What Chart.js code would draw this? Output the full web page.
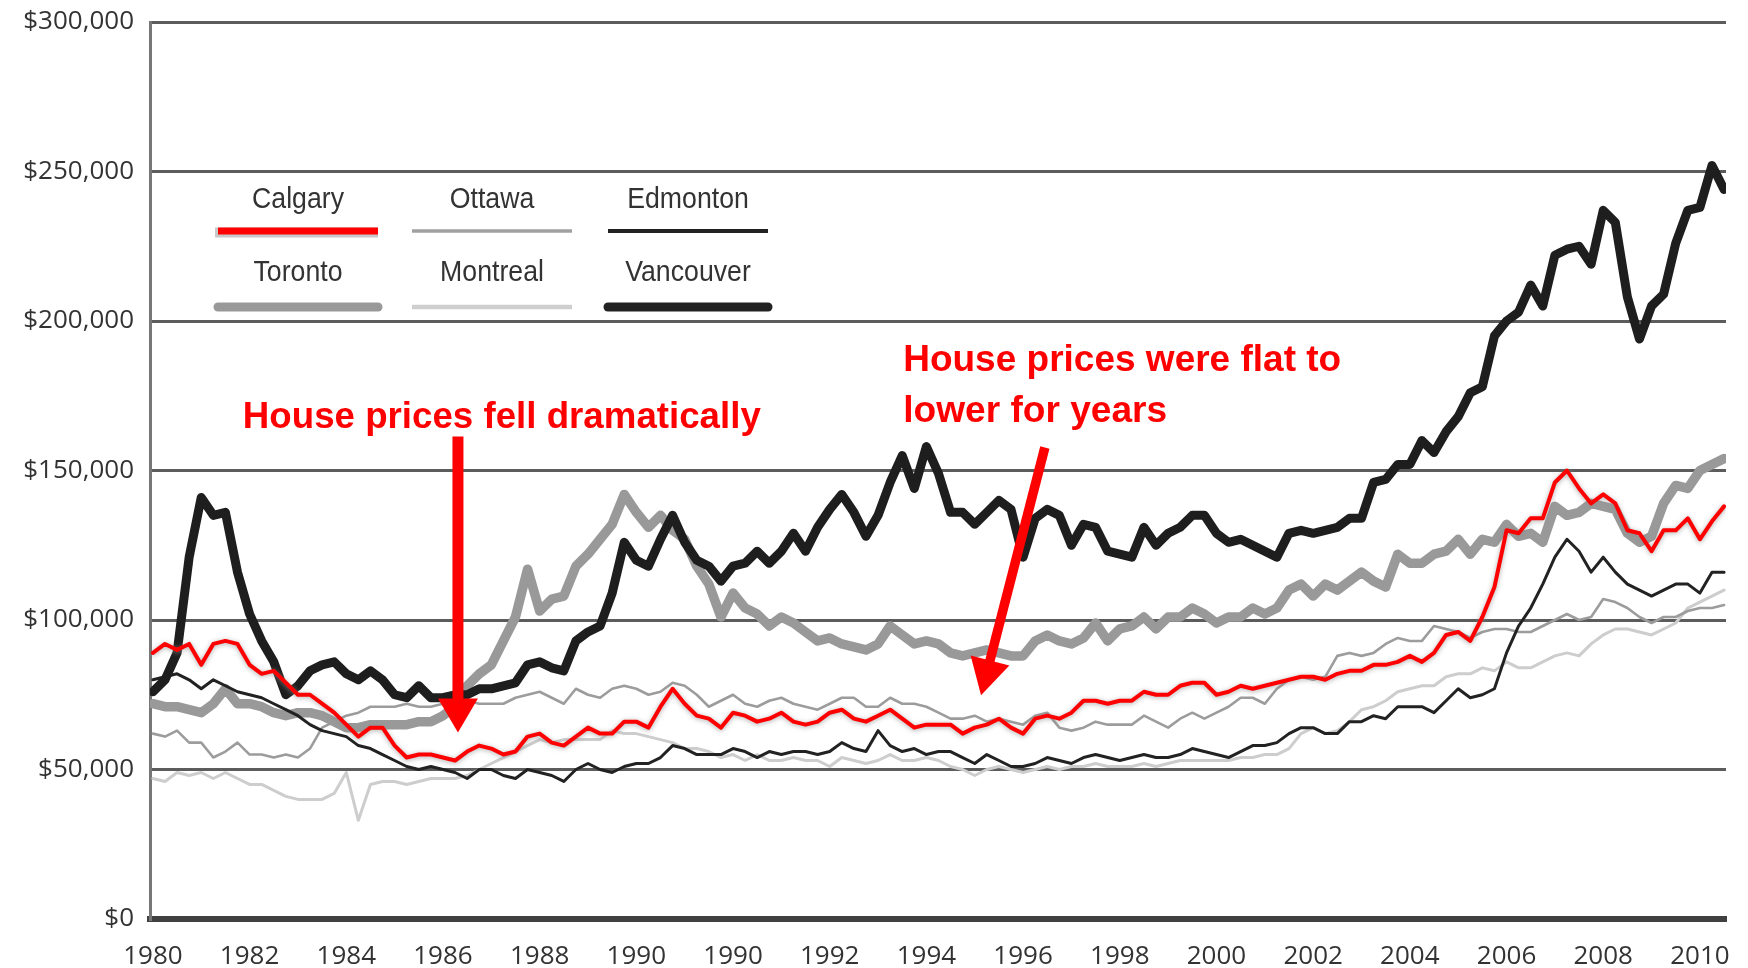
<!DOCTYPE html>
<html>
<head>
<meta charset="utf-8">
<script src="https://cdn.jsdelivr.net/npm/chart.js@4.4.1/dist/chart.umd.min.js"></script>
<style>
  html, body { margin: 0; padding: 0; background: #ffffff; }
  #wrap { width: 1748px; height: 968px; }
</style>
</head>
<body>
<div id="wrap"><canvas id="c" width="1748" height="968"></canvas></div>
<script>
// ---- Data (values in thousands of dollars, sampled every quarter of an axis unit) ----
const startPos = 1980;
const stepPos = 0.25;

const tickLabels = ['1980','1982','1984','1986','1988','1990','1990','1992','1994','1996','1998','2000','2002','2004','2006','2008','2010'];
const yTicks = [0, 50000, 100000, 150000, 200000, 250000, 300000];

const calgary = [
  89, 92, 90, 92,   85, 92, 93, 92,   85, 82, 83, 79,   75, 75, 72, 69,
  65, 61, 64, 64,   58, 54, 55, 55,   54, 53, 56, 58,   57, 55, 56, 61,
  62, 59, 58, 61,   64, 62, 62, 66,   66, 64, 71, 77,   72, 68, 67, 64,
  69, 68, 66, 67,   69, 66, 65, 66,   69, 70, 67, 66,   68, 70, 67, 64,
  65, 65, 65, 62,   64, 65, 67, 64,   62, 67, 68, 67,   69, 73, 73, 72,
  73, 73, 76, 75,   75, 78, 79, 79,   75, 76, 78, 77,   78, 79, 80, 81,
  81, 80, 82, 83,   83, 85, 85, 86,   88, 86, 89, 95,   96, 93, 101, 111,
  130, 129, 134, 134, 146, 150, 144, 139, 142, 139, 130, 129, 123, 130, 130, 134,
  127, 133, 138
];
const toronto = [
  72, 71, 71, 70,   69, 72, 77, 72,   72, 71, 69, 68,   69, 69, 68, 66,
  64, 64, 65, 65,   65, 65, 66, 66,   68, 71, 78, 82,   85, 93, 101, 117,
  103, 107, 108, 118, 122, 127, 132, 142, 136, 131, 135, 130, 127, 118, 112, 101,
  109, 104, 102, 98, 101, 99, 96, 93,  94, 92, 91, 90,   92, 98, 95, 92,
  93, 92, 89, 88,   89, 90, 89, 88,   88, 93, 95, 93,   92, 94, 99, 93,
  97, 98, 101, 97,  101, 101, 104, 102, 99, 101, 101, 104, 102, 104, 110, 112,
  108, 112, 110, 113, 116, 113, 111, 122, 119, 119, 122, 123, 127, 122, 127, 126,
  132, 128, 129, 126, 138, 135, 136, 139, 138, 137, 129, 126, 128, 139, 145, 144,
  150, 152, 154
];
const vancouver = [
  76, 80, 89, 121,  141, 135, 136, 116, 102, 93, 86, 75,   78, 83, 85, 86,
  82, 80, 83, 80,   75, 74, 78, 74,   74, 75, 75, 77,   77, 78, 79, 85,
  86, 84, 83, 93,   96, 98, 109, 126, 120, 118, 127, 135, 126, 120, 118, 113,
  118, 119, 123, 119, 123, 129, 123, 131, 137, 142, 136, 128, 135, 146, 155, 144,
  158, 149, 136, 136, 132, 136, 140, 137, 121, 134, 137, 135, 125, 132, 131, 123,
  122, 121, 131, 125, 129, 131, 135, 135, 129, 126, 127, 125, 123, 121, 129, 130,
  129, 130, 131, 134, 134, 146, 147, 152, 152, 160, 156, 163, 168, 176, 178, 195,
  200, 203, 212, 205, 222, 224, 225, 219, 237, 233, 208, 194, 205, 209, 226, 237,
  238, 252, 244
];
const edmonton = [
  80, 81, 82, 80,   77, 80, 78, 76,   75, 74, 72, 70,   68, 65, 63, 62,
  61, 58, 57, 55,   53, 51, 50, 51,   50, 49, 47, 50,   50, 48, 47, 50,
  49, 48, 46, 50,   52, 50, 49, 51,   52, 52, 54, 58,   57, 55, 55, 55,
  57, 56, 54, 56,   55, 56, 56, 55,   56, 59, 57, 56,   63, 58, 56, 57,
  55, 56, 56, 54,   52, 55, 53, 51,   51, 52, 54, 53,   52, 54, 55, 54,
  53, 54, 55, 54,   54, 55, 57, 56,   55, 54, 56, 58,   58, 59, 62, 64,
  64, 62, 62, 66,   66, 68, 67, 71,   71, 71, 69, 73,   77, 74, 75, 77,
  89, 98, 104, 112, 121, 127, 123, 116, 121, 116, 112, 110, 108, 110, 112, 112,
  109, 116, 116
];
const ottawa = [
  62, 61, 63, 59,   59, 54, 56, 59,   55, 55, 54, 55,   54, 57, 64, 66,
  68, 69, 71, 71,   71, 72, 71, 71,   72, 72, 73, 72,   72, 72, 74, 75,
  76, 74, 72, 77,   75, 74, 77, 78,   77, 75, 76, 79,   78, 75, 71, 73,
  75, 72, 71, 73,   74, 72, 71, 70,   72, 74, 74, 71,   71, 74, 72, 72,
  71, 69, 67, 67,   68, 66, 67, 66,   65, 68, 69, 64,   63, 64, 66, 65,
  65, 65, 68, 66,   64, 67, 69, 67,   69, 71, 74, 74,   72, 77, 80, 81,
  80, 81, 88, 89,   88, 89, 92, 94,   93, 93, 98, 97,   96, 94, 96, 97,
  97, 96, 96, 98,   100, 102, 100, 101, 107, 106, 104, 101, 99, 101, 101, 103,
  104, 104, 105
];
const montreal = [
  47, 46, 49, 48,   49, 47, 49, 47,   45, 45, 43, 41,   40, 40, 40, 42,
  49, 33, 45, 46,   46, 45, 46, 47,   47, 47, 48, 50,   52, 54, 56, 58,
  60, 59, 60, 60,   60, 60, 63, 62,   62, 61, 60, 59,   57, 57, 56, 54,
  55, 53, 55, 53,   53, 54, 53, 53,   51, 54, 53, 52,   53, 55, 53, 53,
  54, 53, 51, 50,   48, 50, 51, 50,   49, 50, 51, 50,   51, 51, 52, 51,
  51, 51, 52, 51,   52, 53, 53, 53,   53, 53, 54, 54,   55, 55, 57, 62,
  64, 62, 63, 66,   70, 71, 73, 76,   77, 78, 78, 81,   82, 82, 84, 83,
  86, 84, 84, 86,   88, 89, 88, 92,   95, 97, 97, 96,   95, 97, 99, 104,
  106, 108, 110
];

const seriesNames = ['Calgary', 'Vancouver', 'Edmonton', 'Toronto', 'Ottawa', 'Montreal'];
const seriesValues = [calgary, vancouver, edmonton, toronto, ottawa, montreal];

const annotationTexts = {
  fell: ['House prices fell dramatically'],
  flat: ['House prices were flat to', 'lower for years']
};

// ---- Styles ----
const styles = {
  Calgary:   { color: '#ff0000', width: 4 },
  Vancouver: { color: '#1e1e1e', width: 9 },
  Edmonton:  { color: '#222222', width: 3 },
  Toronto:   { color: '#999999', width: 9.5 },
  Ottawa:    { color: '#9c9c9c', width: 2.6 },
  Montreal:  { color: '#cdcdcd', width: 3 }
};
const legendStyles = {
  Calgary:   { color: '#ff0000', width: 7 },
  Ottawa:    { color: '#a0a0a0', width: 3.5 },
  Edmonton:  { color: '#222222', width: 4 },
  Toronto:   { color: '#999999', width: 9 },
  Montreal:  { color: '#cfcfcf', width: 4.5 },
  Vancouver: { color: '#222222', width: 9 }
};

const toPoints = arr => arr.map((v, i) => ({ x: startPos + i * stepPos, y: v * 1000 }));

const datasets = seriesNames.map((name, idx) => ({
  label: name,
  data: toPoints(seriesValues[idx]),
  borderColor: styles[name].color,
  borderWidth: styles[name].width,
  pointRadius: 0,
  tension: 0,
  fill: false,
  borderJoinStyle: 'round',
  borderCapStyle: 'round'
}));

// ---- Overlay plugin: legend, annotations, halo on Calgary ----
const overlay = {
  id: 'overlay',
  beforeDatasetDraw(chart, args) {
    if (chart.data.datasets[args.index].label === 'Calgary') {
      const ctx = chart.ctx;
      ctx.save();
      ctx.shadowColor = 'rgba(140,140,140,0.7)';
      ctx.shadowBlur = 5;
      ctx.shadowOffsetY = 1;
    }
  },
  afterDatasetDraw(chart, args) {
    if (chart.data.datasets[args.index].label === 'Calgary') {
      chart.ctx.restore();
    }
  },
  afterDatasetsDraw(chart) {
    const ctx = chart.ctx;
    const area = chart.chartArea;
    const xs = chart.scales.x, ys = chart.scales.y;

    // Legend (two rows, three columns) inside the plot
    const legendLayout = [
      ['Calgary', 'Ottawa', 'Edmonton'],
      ['Toronto', 'Montreal', 'Vancouver']
    ];
    const colCenters = [148, 342, 538];
    const textRows = [178, 251];
    const lineRows = [209, 285];
    const halfLen = 80;
    ctx.save();
    ctx.font = '29px "Liberation Sans", Arial, sans-serif';
    ctx.fillStyle = '#333333';
    ctx.textAlign = 'center';
    ctx.textBaseline = 'middle';
    legendLayout.forEach((row, r) => {
      row.forEach((name, c) => {
        const cx = area.left + colCenters[c];
        ctx.save();
        ctx.translate(cx, area.top + textRows[r]);
        ctx.scale(0.92, 1);
        ctx.fillText(name, 0, 0);
        ctx.restore();
        const st = legendStyles[name];
        const ly = area.top + lineRows[r];
        if (name === 'Calgary') {
          ctx.strokeStyle = '#c8c8c8';
          ctx.lineWidth = st.width + 3;
          ctx.lineCap = 'butt';
          ctx.beginPath(); ctx.moveTo(cx - halfLen - 3, ly + 1.5); ctx.lineTo(cx + halfLen, ly + 1.5); ctx.stroke();
        }
        ctx.strokeStyle = st.color;
        ctx.lineWidth = st.width;
        ctx.lineCap = (name === 'Toronto' || name === 'Vancouver') ? 'round' : 'butt';
        ctx.beginPath(); ctx.moveTo(cx - halfLen, ly); ctx.lineTo(cx + halfLen, ly); ctx.stroke();
      });
    });
    ctx.restore();

    // Annotations
    const red = '#ff0000';
    function fitText(text, x, y, width) {
      ctx.save();
      ctx.font = 'bold 37px "Liberation Sans", Arial, sans-serif';
      const w = ctx.measureText(text).width;
      ctx.translate(x, y);
      ctx.scale(width / w, 1);
      ctx.fillStyle = red;
      ctx.textAlign = 'left';
      ctx.textBaseline = 'alphabetic';
      ctx.fillText(text, 0, 0);
      ctx.restore();
    }
    function arrow(p1, v1, p2, v2, shaft, headLen, headW) {
      const x1 = xs.getPixelForValue(p1), y1 = ys.getPixelForValue(v1 * 1000);
      const x2 = xs.getPixelForValue(p2), y2 = ys.getPixelForValue(v2 * 1000);
      const dx = x2 - x1, dy = y2 - y1;
      const len = Math.hypot(dx, dy);
      const ux = dx / len, uy = dy / len;
      const nx = -uy, ny = ux;
      const bx = x2 - ux * headLen, by = y2 - uy * headLen;
      ctx.save();
      ctx.strokeStyle = red;
      ctx.fillStyle = red;
      ctx.lineWidth = shaft;
      ctx.lineCap = 'butt';
      ctx.beginPath(); ctx.moveTo(x1, y1); ctx.lineTo(bx + ux * 2, by + uy * 2); ctx.stroke();
      ctx.beginPath();
      ctx.moveTo(x2, y2);
      ctx.lineTo(bx + nx * headW / 2, by + ny * headW / 2);
      ctx.lineTo(bx - nx * headW / 2, by - ny * headW / 2);
      ctx.closePath();
      ctx.fill();
      ctx.restore();
    }

    fitText(annotationTexts.fell[0], xs.getPixelForValue(1981.86), ys.getPixelForValue(164100), 518);
    fitText(annotationTexts.flat[0], xs.getPixelForValue(1995.52), ys.getPixelForValue(183200), 438);
    fitText(annotationTexts.flat[1], xs.getPixelForValue(1995.52), ys.getPixelForValue(166100), 264);

    arrow(1986.31, 161.4, 1986.31, 62.4, 11, 34, 40);
    arrow(1998.45, 157.7, 1997.13, 74.8, 9.5, 36, 40);
  }
};

const tickFont = { family: '"Open Sans", "DejaVu Sans", sans-serif', size: 26 };

new Chart(document.getElementById('c'), {
  type: 'line',
  data: { datasets },
  options: {
    responsive: false,
    animation: false,
    devicePixelRatio: 1,
    layout: { padding: { top: 22, right: 22, left: 0, bottom: 0 } },
    plugins: {
      legend: { display: false },
      tooltip: { enabled: false }
    },
    scales: {
      x: {
        type: 'linear',
        min: 1979.94,
        max: 2012.54,
        afterBuildTicks: s => { s.ticks = tickLabels.map((_, i) => ({ value: startPos + 2 * i })); },
        afterFit: s => { s.height = 49; s.paddingLeft = 0; s.paddingRight = 0; },
        ticks: {
          callback: (v, i) => tickLabels[i],
          font: tickFont,
          color: '#333333',
          maxRotation: 0,
          autoSkip: false,
          padding: 22
        },
        grid: { display: false, drawTicks: false },
        border: { display: true, color: '#404040', width: 6 }
      },
      y: {
        min: 0,
        max: 300000,
        afterBuildTicks: s => { s.ticks = yTicks.map(v => ({ value: v })); },
        afterFit: s => { s.width = 150; s.paddingTop = 0; s.paddingBottom = 0; },
        ticks: {
          callback: v => '$' + v.toLocaleString('en-US'),
          font: tickFont,
          color: '#333333',
          padding: 16
        },
        grid: { color: '#5c5c5c', lineWidth: 3, drawTicks: false },
        border: { display: true, color: '#777777', width: 3 }
      }
    }
  },
  plugins: [overlay]
});
</script>
</body>
</html>
